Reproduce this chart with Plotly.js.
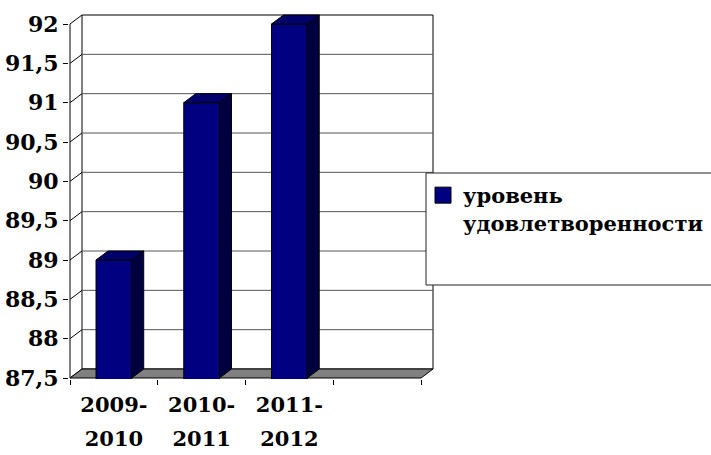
<!DOCTYPE html>
<html>
<head>
<meta charset="utf-8">
<script src="https://cdn.plot.ly/plotly-3.0.1.min.js"></script>
<style>
  html, body { margin: 0; padding: 0; background: #ffffff; }
  #chart { width: 711px; height: 455px; }
</style>
</head>
<body>
<div id="chart"></div>
<script>
// ---- data ----
const categories = ['2009-2010', '2010-2011', '2011-2012', ''];
const values = [89, 91, 92, null];
const seriesName = 'уровень удовлетворенности';
const yTickVals = [87.5, 88, 88.5, 89, 89.5, 90, 90.5, 91, 91.5, 92];
const yTickText = ['87,5', '88', '88,5', '89', '89,5', '90', '90,5', '91', '91,5', '92'];

// ---- geometry (styling) ----
const F = (s) => ({ family: '"DejaVu Serif"', size: s, color: '#000000', weight: 'bold' });
const pxX = 87.75;            // pixels per category
const pxY = 354 / 4.5;        // pixels per value unit
const DX = 12 / pxX;          // depth offset in x units
const DY = 9 / pxY;           // depth offset in y units
const yMin = yTickVals[0], yMax = yTickVals[yTickVals.length - 1];
const xLo = -0.5, xHi = categories.length - 0.5;
const BW = 0.407;             // bar width

const catIdx = categories.map((c, i) => i);
const line1 = categories.map(c => c ? c.split('-')[0] + '-' : '');
const line2 = categories.map(c => c ? c.split('-')[1] : '');

// bar 3D faces
const sideX = [], sideY = [], topX = [], topY = [];
values.forEach((v, i) => {
  if (v === null) return;
  const xl = i - BW / 2, xr = i + BW / 2;
  sideX.push(xr, xr, xr + DX, xr + DX, xr, null);
  sideY.push(yMin, v, v + DY, yMin + DY, yMin, null);
  topX.push(xl, xr, xr + DX, xl + DX, xl, null);
  topY.push(v, v, v + DY, v + DY, v, null);
});

const traces = [
  {
    type: 'bar', x: catIdx, y: values, width: BW, showlegend: false,
    marker: { color: '#000080', line: { color: '#000000', width: 1 } },
    hoverinfo: 'skip'
  },
  {
    type: 'scatter', x: sideX, y: sideY, mode: 'lines', fill: 'toself',
    fillcolor: '#000040', line: { color: '#000000', width: 1 }, showlegend: false, hoverinfo: 'skip'
  },
  {
    type: 'scatter', x: topX, y: topY, mode: 'lines', fill: 'toself',
    fillcolor: '#00006a', line: { color: '#000000', width: 1 }, showlegend: false, hoverinfo: 'skip'
  },
  {
    type: 'scatter', x: [null], y: [null], mode: 'markers', name: seriesName.replace(' ', '<br>'),
    marker: { symbol: 'square', size: 16, color: '#000080', line: { color: '#000000', width: 1 } },
    hoverinfo: 'skip'
  },
  {
    type: 'scatter', x: [null], y: [null], xaxis: 'x2', mode: 'markers', showlegend: false,
    marker: { opacity: 0 }, hoverinfo: 'skip'
  }
];

// shapes: back wall, gridlines, side-wall lines, floor, front axis, legend frame
const shapes = [];
shapes.push({ type: 'rect', layer: 'below', xref: 'x', yref: 'y',
  x0: xLo + DX, x1: xHi + DX, y0: yMin + DY, y1: yMax + DY,
  fillcolor: '#ffffff', line: { color: '#000000', width: 1 } });
yTickVals.forEach(v => {
  if (v !== yMin && v !== yMax) {
    shapes.push({ type: 'line', layer: 'below', xref: 'x', yref: 'y',
      x0: xLo + DX, x1: xHi + DX, y0: v + DY, y1: v + DY,
      line: { color: '#555555', width: 1 } });
  }
  shapes.push({ type: 'line', layer: 'below', xref: 'x', yref: 'y',
    x0: xLo, x1: xLo + DX, y0: v, y1: v + DY,
    line: { color: '#000000', width: 1 } });
});
shapes.push({ type: 'path', layer: 'below', xref: 'x', yref: 'y',
  path: `M ${xLo} ${yMin} L ${xHi} ${yMin} L ${xHi + DX} ${yMin + DY} L ${xLo + DX} ${yMin + DY} Z`,
  fillcolor: '#808080', line: { color: '#000000', width: 1 } });
shapes.push({ type: 'line', layer: 'below', xref: 'x', yref: 'y',
  x0: xLo, x1: xLo, y0: yMin, y1: yMax, line: { color: '#000000', width: 1 } });
// legend frame (paper coords of plot area: left 69, top 14, size 365x365)
const pap = (px, py) => [(px - 69) / 365, (379 - py) / 365];
const [lx0, ly0] = pap(426, 285), [lx1, ly1] = pap(725, 173);
shapes.push({ type: 'rect', layer: 'above', xref: 'paper', yref: 'paper',
  x0: lx0, x1: lx1, y0: ly0, y1: ly1, fillcolor: '#ffffff', line: { color: '#222222', width: 1 } });

const [legX, legY] = pap(423, 175);

const layout = {
  width: 711, height: 455,
  margin: { l: 69, r: 277, t: 14, b: 76, pad: 0, autoexpand: false },
  paper_bgcolor: '#ffffff', plot_bgcolor: '#ffffff',
  font: { family: '"DejaVu Serif", serif', size: 22, color: '#000000', weight: 'bold' },
  showlegend: true,
  legend: {
    x: legX, y: legY, xanchor: 'left', yanchor: 'top', valign: 'top',
    bgcolor: 'rgba(0,0,0,0)', borderwidth: 0, itemsizing: 'trace',
    font: F(21)
  },
  xaxis: {
    type: 'linear', range: [xLo - 1 / pxX, xHi + DX + 1 / pxX], fixedrange: true,
    tickmode: 'array', tickvals: catIdx, ticktext: line1, ticks: '',
    showgrid: false, zeroline: false, showline: false, tickfont: F(21),
    ticklabelstandoff: 11, automargin: false,
    minor: { tickmode: 'array', tickvals: catIdx.concat([categories.length]).map(i => i - 0.5),
             ticks: 'outside', ticklen: 5, tickwidth: 1, tickcolor: '#000000', showgrid: false }
  },
  xaxis2: {
    type: 'linear', overlaying: 'x', anchor: 'y', side: 'bottom',
    range: [xLo - 1 / pxX, xHi + DX + 1 / pxX], fixedrange: true,
    tickmode: 'array', tickvals: catIdx, ticktext: line2, ticks: '',
    showgrid: false, zeroline: false, showline: false, tickfont: F(21),
    ticklabelstandoff: 45, automargin: false
  },
  yaxis: {
    type: 'linear', range: [yMin - 1 / pxY, yMax + DY + 1 / pxY], fixedrange: true,
    tickmode: 'array', tickvals: yTickVals, ticktext: yTickText,
    ticks: 'outside', ticklen: 5, tickwidth: 1, tickcolor: '#000000',
    showgrid: false, zeroline: false, showline: false, tickfont: F(22), automargin: false
  },
  shapes: shapes
};

Plotly.newPlot('chart', traces, layout, { staticPlot: true, displayModeBar: false });
</script>
</body>
</html>
